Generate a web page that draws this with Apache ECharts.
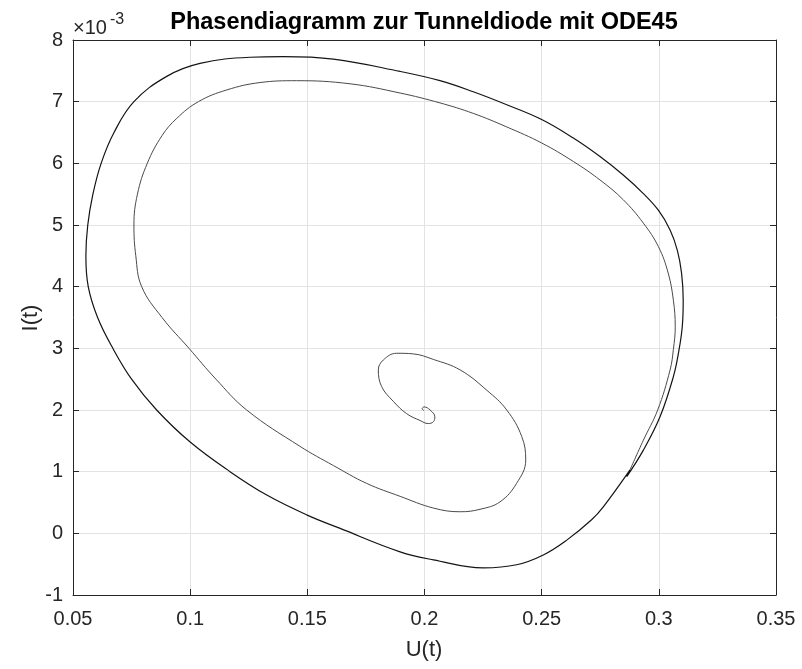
<!DOCTYPE html>
<html>
<head>
<meta charset="utf-8">
<script src="https://cdn.jsdelivr.net/npm/echarts@6/dist/echarts.min.js"></script>
<style>
html,body{margin:0;padding:0;background:#fff;}
#c{width:802px;height:669px;}
</style>
</head>
<body>
<div id="c"></div>
<script>
// Title and axis texts
const titleText = 'Phasendiagramm zur Tunneldiode mit ODE45';
const xName = 'U(t)';
const yName = 'I(t)';
const yExponent = '-3';
// axis ranges (I in units of 1e-3)
const xTicks = [0.05, 0.1, 0.15, 0.2, 0.25, 0.3, 0.35];
const yTicks = [-1, 0, 1, 2, 3, 4, 5, 6, 7, 8];

// Transient: spiral from equilibrium outwards, then inner large loop
const transientU = [
  0.1998, 0.1990, 0.1998, 0.2024, 0.2044, 0.2038, 0.2016, 0.1981, 0.1924, 0.1867,
  0.1817, 0.1803, 0.1824, 0.1881, 0.1952, 0.2038, 0.2152, 0.2266, 0.2351, 0.2415,
  0.2432, 0.2393, 0.2322, 0.2237, 0.2152, 0.2038, 0.1896, 0.1753, 0.1611, 0.1469,
  0.1241, 0.1110, 0.0995, 0.0880, 0.0793, 0.0768, 0.0760, 0.0775, 0.0817, 0.0880,
  0.0943, 0.1035, 0.1156, 0.1298, 0.1454, 0.1682, 0.1896, 0.2066, 0.2208, 0.2351,
  0.2500, 0.2635, 0.2749, 0.2848, 0.2934, 0.2998, 0.3040, 0.3062, 0.3070, 0.3062,
  0.3048, 0.2995, 0.2934, 0.2877
];
const transientI = [
  1.99, 2.02, 2.05, 2.00, 1.89, 1.81, 1.78, 1.83, 1.94, 2.14,
  2.38, 2.65, 2.81, 2.92, 2.91, 2.82, 2.65, 2.32, 2.00, 1.57,
  1.19, 0.81, 0.51, 0.39, 0.35, 0.41, 0.60, 0.81, 1.10, 1.41,
  2.00, 2.50, 3.00, 3.50, 4.00, 4.50, 5.00, 5.50, 6.00, 6.45,
  6.73, 7.00, 7.19, 7.31, 7.34, 7.29, 7.14, 6.98, 6.81, 6.59,
  6.33, 6.03, 5.73, 5.41, 5.03, 4.65, 4.22, 3.78, 3.35, 2.98,
  2.65, 2.00, 1.51, 1.03
];
// Limit cycle (outer loop)
const cycleU = [
  0.2877, 0.2763, 0.2713, 0.2607, 0.2507, 0.2393, 0.2251, 0.2038, 0.1896, 0.1640,
  0.1497, 0.1327, 0.1170, 0.1000, 0.0857, 0.0750, 0.0670, 0.0605, 0.0565, 0.0555,
  0.0563, 0.0585, 0.0620, 0.0675, 0.0760, 0.0900, 0.1042, 0.1255, 0.1397, 0.1611,
  0.1896, 0.2066, 0.2208, 0.2351, 0.2500, 0.2635, 0.2749, 0.2848, 0.2934, 0.2998,
  0.3048, 0.3079, 0.3097, 0.3104, 0.3100, 0.3085, 0.3062, 0.3005, 0.2934, 0.2863
];
const cycleI = [
  1.03, 0.43, 0.22, -0.11, -0.35, -0.51, -0.56, -0.43, -0.30, 0.08,
  0.30, 0.62, 1.00, 1.48, 2.00, 2.50, 3.00, 3.50, 4.00, 4.50,
  5.00, 5.50, 6.00, 6.50, 7.00, 7.41, 7.62, 7.72, 7.73, 7.69,
  7.49, 7.34, 7.16, 6.95, 6.71, 6.41, 6.11, 5.81, 5.51, 5.24,
  4.92, 4.59, 4.22, 3.78, 3.35, 2.95, 2.54, 1.89, 1.35, 0.92
];

const pairs = (a, b) => a.map((v, i) => [v, b[i]]);
const fmt = v => String(parseFloat(v.toFixed(4)));
const axisColor = '#262626';
const gridColor = '#e3e3e3';
const font = '"Liberation Sans", Arial, Helvetica, sans-serif';

const chart = echarts.init(document.getElementById('c'), null, {renderer: 'canvas'});
const L = 73, R = 26, T = 40, B = 74;

const baseX = {
  type: 'value', min: xTicks[0], max: xTicks[xTicks.length - 1], interval: 0.05,
  axisLine: {show: true, onZero: false, lineStyle: {color: axisColor, width: 1}},
  axisTick: {show: true, inside: true, length: 6, lineStyle: {color: axisColor}},
};
const baseY = {
  type: 'value', min: yTicks[0], max: yTicks[yTicks.length - 1], interval: 1,
  axisLine: {show: true, onZero: false, lineStyle: {color: axisColor, width: 1}},
  axisTick: {show: true, inside: true, length: 6, lineStyle: {color: axisColor}},
};

chart.setOption({
  animation: false,
  backgroundColor: '#ffffff',
  grid: {left: L, right: R, top: T, bottom: B, containLabel: false, outerBoundsMode: 'none'},
  xAxis: [
    Object.assign({}, baseX, {
      position: 'bottom',
      axisLabel: {show: true, margin: 14, color: axisColor, fontSize: 20, fontFamily: font, formatter: fmt},
      splitLine: {show: true, lineStyle: {color: gridColor, width: 1}}
    }),
    Object.assign({}, baseX, {
      position: 'top',
      axisLabel: {show: false},
      splitLine: {show: false}
    })
  ],
  yAxis: [
    Object.assign({}, baseY, {
      position: 'left',
      axisLabel: {show: true, margin: 10, color: axisColor, fontSize: 20, fontFamily: font, formatter: v => String(v)},
      splitLine: {show: true, lineStyle: {color: gridColor, width: 1}}
    }),
    Object.assign({}, baseY, {
      position: 'right',
      axisLabel: {show: false},
      splitLine: {show: false}
    })
  ],
  series: [
    {
      type: 'line', xAxisIndex: 0, yAxisIndex: 0,
      data: pairs(transientU, transientI),
      showSymbol: false, smooth: 0.4,
      lineStyle: {color: '#4a4a4a', width: 1},
      silent: true
    },
    {
      type: 'line', xAxisIndex: 0, yAxisIndex: 0,
      data: pairs(cycleU, cycleI),
      showSymbol: false, smooth: 0.4,
      lineStyle: {color: '#141414', width: 1.2},
      silent: true
    }
  ],
  graphic: [
    {type: 'text', x: 424, y: 22.5, silent: true,
      style: {text: titleText, font: 'bold 23.5px ' + font, fill: '#000', textAlign: 'center', textVerticalAlign: 'middle'}},
    {type: 'text', x: 424, y: 650, silent: true,
      style: {text: xName, font: '22px ' + font, fill: axisColor, textAlign: 'center', textVerticalAlign: 'middle'}},
    {type: 'text', x: 31, y: 318, rotation: Math.PI / 2, silent: true,
      style: {text: yName, font: '22px ' + font, fill: axisColor, textAlign: 'center', textVerticalAlign: 'middle'}},
    {type: 'text', x: 73, y: 28, silent: true,
      style: {text: '\u00d710', font: '20px ' + font, fill: axisColor, textAlign: 'left', textVerticalAlign: 'middle'}},
    {type: 'text', x: 110, y: 20, silent: true,
      style: {text: yExponent, font: '16px ' + font, fill: axisColor, textAlign: 'left', textVerticalAlign: 'middle'}}
  ]
});
</script>
</body>
</html>
